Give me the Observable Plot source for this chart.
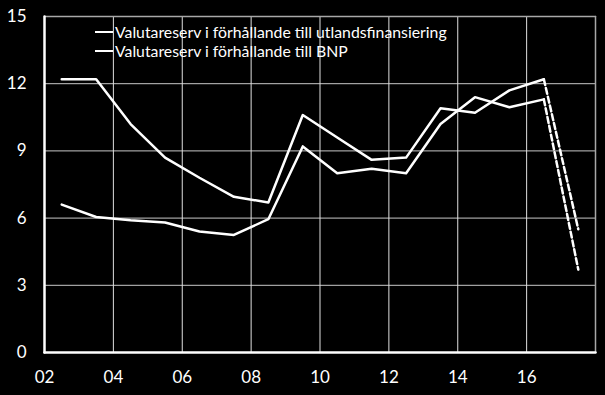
<!DOCTYPE html>
<html>
<head>
<meta charset="utf-8">
<script src="https://cdn.jsdelivr.net/npm/d3@7"></script>
<script src="https://cdn.jsdelivr.net/npm/@observablehq/plot@0.6"></script>
<style>
  html, body { margin: 0; padding: 0; background: #000; }
  #wrap { position: relative; width: 605px; height: 395px; background: #000; }
  #legend { position: absolute; left: 95px; top: 22px; font-family: Lato, "Open Sans", sans-serif; font-size: 15.8px; color: #fff; line-height: 19px; }
  #legend .row { display: flex; align-items: center; white-space: nowrap; }
  #legend .sw { width: 18px; height: 0; border-top: 2px solid #fff; margin-right: 2px; }
</style>
</head>
<body>
<div id="wrap"><div id="legend"></div></div>
<script>
const years = [2002, 2003, 2004, 2005, 2006, 2007, 2008, 2009, 2010, 2011, 2012, 2013, 2014, 2015, 2016, 2017];
const utland = [12.2, 12.2, 10.2, 8.7, 7.8, 6.95, 6.7, 10.6, 9.6, 8.6, 8.7, 10.9, 10.7, 11.7, 12.2, 5.5];
const bnp = [6.6, 6.05, 5.9, 5.8, 5.4, 5.25, 5.95, 9.2, 8.0, 8.2, 8.0, 10.2, 11.4, 10.95, 11.3, 3.7];
const seriesNames = ["Valutareserv i förhållande till utlandsfinansiering", "Valutareserv i förhållande till BNP"];
const xTicks = [2002, 2004, 2006, 2008, 2010, 2012, 2014, 2016];
const xGrid = [2004, 2006, 2008, 2010, 2012, 2014, 2016];
const yTicks = [0, 3, 6, 9, 12, 15];
const yGrid = [3, 6, 9, 12];
const xStart = 2002, xEnd = 2018, yTop = 15, yBase = 0;
const lastActual = 2016;

const rows = [];
years.forEach((y, i) => {
  rows.push({series: seriesNames[0], x: y + 0.5, year: y, v: utland[i]});
  rows.push({series: seriesNames[1], x: y + 0.5, year: y, v: bnp[i]});
});
const solid = rows.filter(d => d.year <= lastActual);
const dashed = rows.filter(d => d.year >= lastActual);
const fmt = d => String(d % 100).padStart(2, "0");

// grid / frame segments built from the tick arrays, drawn as line paths
const hSeg = vals => vals.flatMap(v => [{k: "h" + v, x: xStart, y: v}, {k: "h" + v, x: xEnd, y: v}]);
const vSeg = vals => vals.flatMap(v => [{k: "v" + v, x: v, y: yBase}, {k: "v" + v, x: v, y: yTop}]);

const chart = Plot.plot({
  width: 605, height: 395,
  marginLeft: 44, marginRight: 10, marginTop: 16, marginBottom: 43,
  style: {background: "#000", color: "#fff", fontFamily: "Lato, 'Open Sans', sans-serif", fontSize: "17px"},
  x: {domain: [xStart, xEnd], ticks: xTicks, tickFormat: fmt, tickSize: 0, tickPadding: 18, label: null},
  y: {domain: [yBase, yTop], ticks: yTicks, tickSize: 0, tickPadding: 18, label: null},
  marks: [
    Plot.line(hSeg(yGrid), {x: "x", y: "y", z: "k", stroke: "#c8c8c8", strokeWidth: 1}),
    Plot.line(vSeg(xGrid), {x: "x", y: "y", z: "k", stroke: "#e0e0e0", strokeWidth: 1}),
    Plot.line(hSeg([yTop]), {x: "x", y: "y", z: "k", stroke: "#a8a8a8", strokeWidth: 1.5}),
    Plot.line(vSeg([xEnd]), {x: "x", y: "y", z: "k", stroke: "#a8a8a8", strokeWidth: 1.5}),
    Plot.line(hSeg([yBase]), {x: "x", y: "y", z: "k", stroke: "#fff", strokeWidth: 2.5}),
    Plot.line(vSeg([xStart]), {x: "x", y: "y", z: "k", stroke: "#fff", strokeWidth: 2.5}),
    Plot.line(solid, {x: "x", y: "v", z: "series", stroke: "#fff", strokeWidth: 2.5}),
    Plot.line(dashed, {x: "x", y: "v", z: "series", stroke: "#fff", strokeWidth: 2.5, strokeDasharray: "6,3"})
  ]
});
document.getElementById("wrap").prepend(chart);

const leg = document.getElementById("legend");
seriesNames.forEach(n => {
  const r = document.createElement("div");
  r.className = "row";
  r.innerHTML = '<span class="sw"></span><span>' + n + '</span>';
  leg.appendChild(r);
});
</script>
</body>
</html>
